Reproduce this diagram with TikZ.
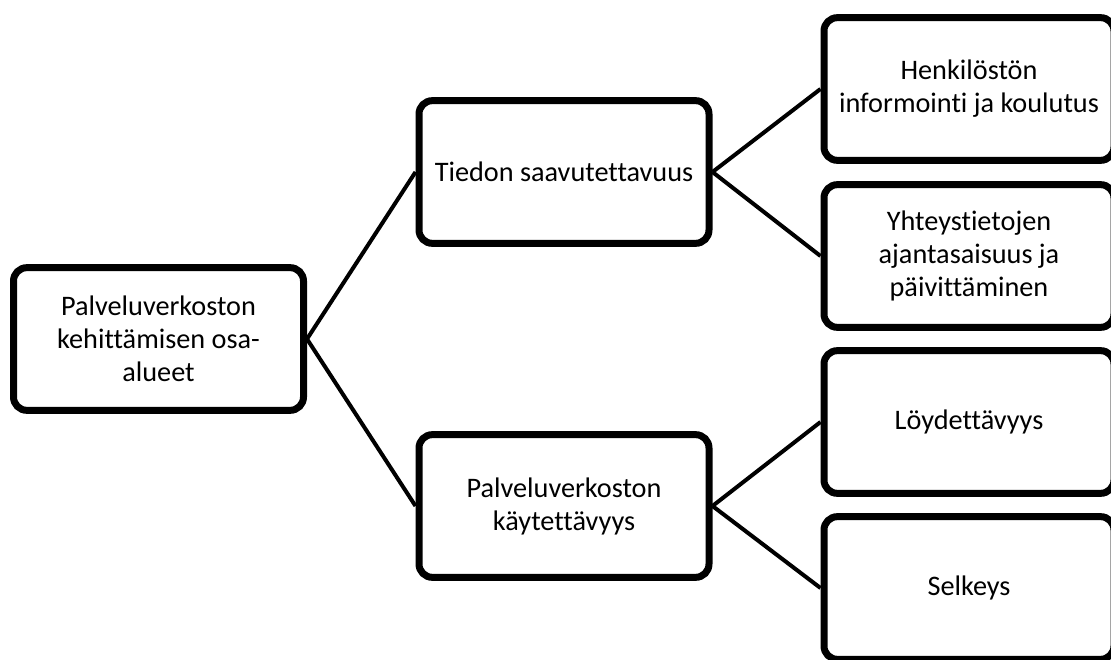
\documentclass[tikz,border=0pt]{standalone}
\usepackage{fontspec}
\setmainfont[Ligatures=NoCommon]{Carlito}
\usetikzlibrary{shadows}

\tikzset{
  osa/.style={draw, rounded corners=10pt, line width=5.25pt, fill=white,
    minimum width=217.5pt, minimum height=107pt, align=center,
    font=\fontsize{21.2}{24.8}\selectfont,
    drop shadow={shadow xshift=1.8pt, shadow yshift=-1.8pt, opacity=0.3}},
  yhteys/.style={line width=3pt}
}

\begin{document}
\begin{tikzpicture}[x=0.75pt,y=-0.75pt]
\useasboundingbox (0,0) rectangle (1111,660);
\clip (0,0) rectangle (1111,660);

\node[osa] (root) at (158.5,339) {Palveluverkoston\\kehittämisen osa-\\alueet};

\node[osa] (tiedon) at (564,172) {Tiedon saavutettavuus};
\node[osa] (kaytto) at (564,506) {Palveluverkoston\\käytettävyys};

\node[osa] (henk) at (969,89) {Henkilöstön\\informointi ja koulutus};
\node[osa] (yht) at (969,256) {Yhteystietojen\\ajantasaisuus ja\\päivittäminen};
\node[osa] (loyd) at (969,422) {Löydettävyys};
\node[osa] (selk) at (969,588) {Selkeys};

\draw[yhteys] (root.east) -- (tiedon.west);
\draw[yhteys] (root.east) -- (kaytto.west);

\draw[yhteys] (tiedon.east) -- (henk.west);
\draw[yhteys] (tiedon.east) -- (yht.west);
\draw[yhteys] (kaytto.east) -- (loyd.west);
\draw[yhteys] (kaytto.east) -- (selk.west);
\end{tikzpicture}
\end{document}
